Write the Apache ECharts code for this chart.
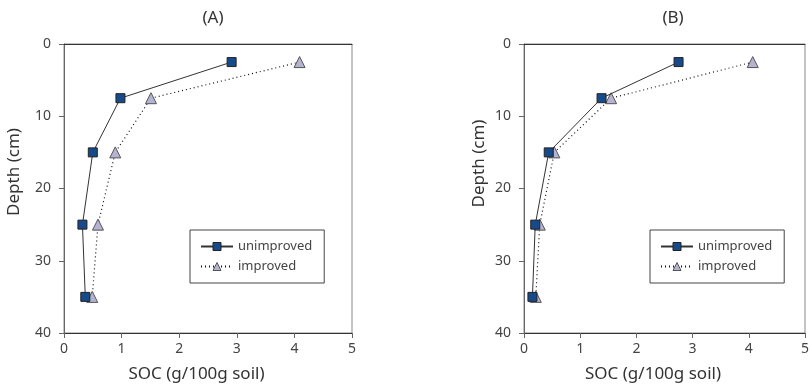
<!DOCTYPE html>
<html>
<head>
<meta charset="utf-8">
<script src="https://cdn.jsdelivr.net/npm/echarts@6/dist/echarts.min.js"></script>
<style>
html,body{margin:0;padding:0;background:#fff;}
#main{width:812px;height:388px;}
</style>
</head>
<body>
<div id="main"></div>
<script>
// depth of each sampled layer (cm)
var depths = [2.5, 7.5, 15, 25, 35];
var xTicks = [0, 1, 2, 3, 4, 5];
var yTicks = [0, 10, 20, 30, 40];
// SOC (g/100g soil), panel A
var socA_unimproved = [2.91, 0.98, 0.50, 0.32, 0.37];
var socA_improved   = [4.09, 1.51, 0.89, 0.59, 0.49];
// panel B
var socB_unimproved = [2.75, 1.38, 0.44, 0.20, 0.15];
var socB_improved   = [4.07, 1.55, 0.54, 0.28, 0.21];
var panelTitles = ['(A)', '(B)'];
var seriesNames = ['unimproved', 'improved'];

var FONT = 'Noto Sans';
var myChart = echarts.init(document.getElementById('main'));

var uniStyle = {color: '#174a8b', borderColor: '#222', borderWidth: 1};
var impStyle = {color: '#b4b4d2', borderColor: '#555', borderWidth: 1};

function pairs(xs){
	var out = [];
	for (var i = 0; i < xs.length; i++) out.push([xs[i], depths[i]]);
	return out;
}

var panels = [
	{left: 64, uni: socA_unimproved, imp: socA_improved, yShift: 33, yGap: 41},
	{left: 524, uni: socB_unimproved, imp: socB_improved, yShift: 50, yGap: 36}
];

var grid = [], xAxis = [], yAxis = [], series = [], title = [];
for (var p = 0; p < panels.length; p++){
	var pn = panels[p];
	grid.push({left: pn.left, top: 44, width: 288, height: 289, show: true,
		borderColor: '#888', borderWidth: 1, backgroundColor: 'transparent'});
	title.push({text: panelTitles[p], left: pn.left + 144, top: 5, textAlign: 'center',
		textStyle: {fontFamily: FONT, fontSize: 17, fontWeight: 'normal', color: '#333'}});
	xAxis.push({
		type: 'value', gridIndex: p, min: xTicks[0], max: xTicks[xTicks.length - 1], interval: 1,
		name: 'SOC (g/100g soil)', nameLocation: 'middle', nameGap: 33,
		nameTextStyle: {fontFamily: FONT, fontSize: 17, color: '#333', padding: [0, 23, 0, 0]},
		axisLine: {show: true, onZero: false, lineStyle: {color: '#333', width: 1}},
		axisTick: {show: true, length: 5, lineStyle: {color: '#666'}},
		axisLabel: {fontFamily: FONT, fontSize: 14, color: '#444', margin: 9},
		splitLine: {show: false}
	});
	// top edge of the frame
	xAxis.push({
		type: 'value', gridIndex: p, position: 'top', min: 0, max: 5,
		axisLine: {show: true, onZero: false, lineStyle: {color: '#333', width: 1}},
		axisTick: {show: false}, axisLabel: {show: false}, splitLine: {show: false}
	});
	yAxis.push({
		type: 'value', gridIndex: p, inverse: true, min: yTicks[0], max: yTicks[yTicks.length - 1], interval: 10,
		name: 'Depth (cm)', nameLocation: 'middle', nameGap: pn.yGap,
		nameTextStyle: {fontFamily: FONT, fontSize: 17, color: '#333', padding: [0, 0, 0, pn.yShift]},
		axisLine: {show: true, onZero: false, lineStyle: {color: '#666', width: 1}},
		axisTick: {show: true, length: 5, lineStyle: {color: '#666'}},
		axisLabel: {fontFamily: FONT, fontSize: 14, color: '#444', margin: 13},
		splitLine: {show: false}
	});
	series.push({
		name: seriesNames[0], type: 'line', xAxisIndex: p * 2, yAxisIndex: p,
		data: pairs(pn.uni), symbol: 'rect', symbolSize: 9,
		itemStyle: uniStyle,
		lineStyle: {color: '#333', width: 1, type: 'solid'}, z: 3
	});
	series.push({
		name: seriesNames[1], type: 'line', xAxisIndex: p * 2, yAxisIndex: p,
		data: pairs(pn.imp), symbol: 'triangle', symbolSize: 11,
		itemStyle: impStyle,
		lineStyle: {color: '#111', width: 1.2, type: [1, 3]}, z: 2
	});
}

var option = {
	animation: false,
	backgroundColor: '#fff',
	title: title,
	grid: grid,
	xAxis: xAxis,
	yAxis: yAxis,
	legend: [0, 1].map(function(p){
		return {
			orient: 'vertical', left: panels[p].left + 126, top: 230,
			itemWidth: 32, itemHeight: 10, itemGap: 7,
			padding: [10, 12, 10, 10],
			borderColor: '#444', borderWidth: 1, backgroundColor: '#fff',
			data: [
				{name: seriesNames[0], itemStyle: uniStyle},
				{name: seriesNames[1], itemStyle: impStyle}
			],
			textStyle: {fontFamily: FONT, fontSize: 13, color: '#444'}
		};
	}),
	series: series
};
myChart.setOption(option);
</script>
</body>
</html>
